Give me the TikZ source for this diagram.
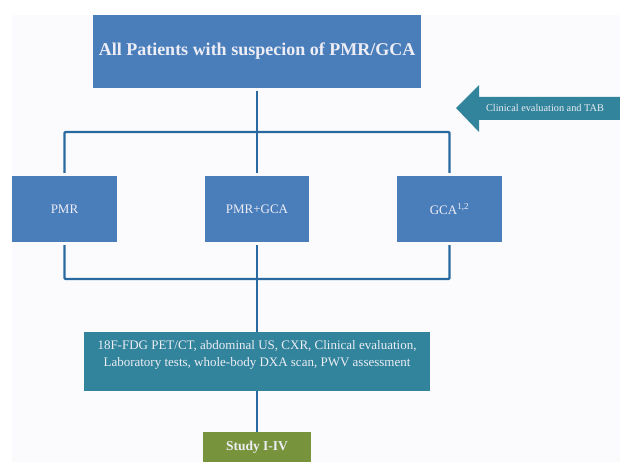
\documentclass[tikz,border=0pt]{standalone}
\usepackage{fontspec}
\setmainfont{Liberation Serif}
\usetikzlibrary{positioning}

\definecolor{pagebg}{HTML}{FBFBFD}
\definecolor{boxblue}{HTML}{4A7EBB}
\definecolor{linkblue}{HTML}{2A69A0}
\definecolor{boxteal}{HTML}{31849B}
\definecolor{boxolive}{HTML}{77933C}
\definecolor{boxtext}{HTML}{EDEDF5}

\begin{document}
\begin{tikzpicture}[
			x = 1pt, y = -1pt,
			node distance = 88pt,
			box/.style = {
				fill = boxblue, text = boxtext,
				inner sep = 0, outer sep = 0,
				font = \fontsize{13}{17}\selectfont,
			},
			link/.style = {
				line width = 2.4pt, draw = linkblue,
				rounded corners = 1pt, line join = round,
			},
			gap/.style = {shorten <= 3pt, shorten >= 3pt},
		]

		\useasboundingbox (0,0) rectangle (620,462);
		\fill[white] (0,0) rectangle (620,462);
		\fill[pagebg] (12,15) rectangle (620,462);

		\node[
			box, minimum width = 328pt, minimum height = 73pt,
			font = \bfseries\fontsize{18}{22}\selectfont,
		] (all) at (257,51.5) {All Patients with suspecion of PMR/GCA};

		\node[
			box, minimum width = 104pt, minimum height = 66pt
		] (pmrgca) at (257,209) {PMR+GCA};
		\node[
			box, minimum width = 105pt, minimum height = 66pt,
			left = of pmrgca,
		] (pmr) {PMR};
		\node[
			box, minimum width = 105pt, minimum height = 66pt,
			right = of pmrgca,
		] (gca) {GCA\textsuperscript{1,2}};

		\node[
			box, fill = boxteal, align = center,
			minimum width = 346pt, minimum height = 59pt,
		] (exams) at (257,361.5) {18F-FDG PET/CT, abdominal US, CXR, Clinical evaluation,\\
			Laboratory tests, whole-body DXA scan, PWV assessment\\ \mbox{}};

		\node[
			box, fill = boxolive, minimum width = 108pt, minimum height = 30pt,
			font = \bfseries\fontsize{13.5}{16}\selectfont,
		] (study) at (257,447) {Study I-IV};

		% arrow from the right
		\fill[boxteal] (456,108) -- (479,85) -- (479,97) -- (620,97)
			-- (620,120) -- (479,120) -- (479,132) -- cycle;
		\node[text = boxtext, font = \fontsize{10.3}{12}\selectfont] (tab)
			at (545,108) {Clinical evaluation and TAB};

		% split and merge
		\coordinate (split) at (257,132);
		\coordinate (merge) at (257,279);
		\draw[link, shorten <= 3pt] (all) -- (split);
		\draw[link, shorten >= 3pt] (split) -| (pmr);
		\draw[link, shorten >= 3pt] (split) -| (gca);
		\draw[link, shorten >= 3pt] (split) -- (pmrgca);
		\draw[link, gap] (pmr) |- (merge) -| (gca);
		\draw[link, shorten <= 3pt] (pmrgca) -- (merge) -- (exams);
		\draw[link] (exams) -- (study);

	\end{tikzpicture}
\end{document}
